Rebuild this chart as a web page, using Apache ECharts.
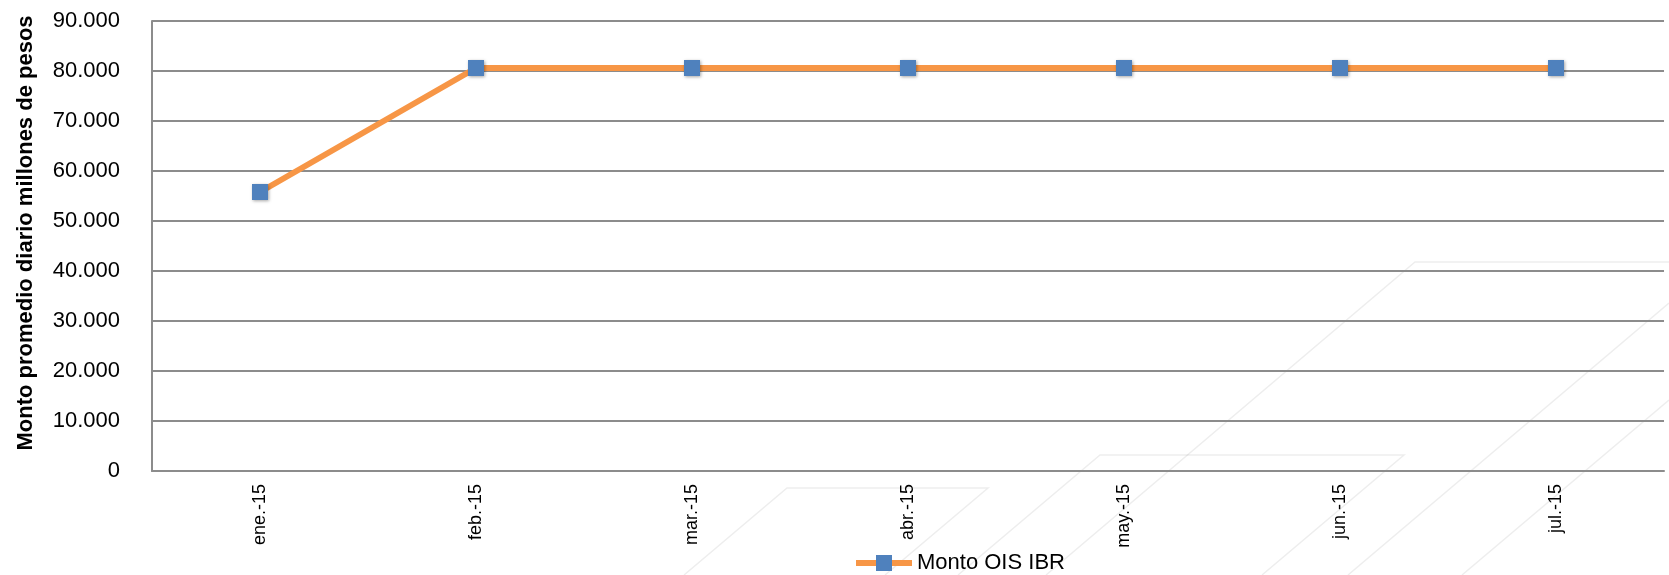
<!DOCTYPE html>
<html><head><meta charset="utf-8">
<script src="https://cdn.jsdelivr.net/npm/echarts@6/dist/echarts.min.js"></script>
<style>html,body{margin:0;padding:0;background:#fff}#c{width:1669px;height:575px}</style>
</head><body><div id="c"></div>
<script>
const categories = ['ene.-15','feb.-15','mar.-15','abr.-15','may.-15','jun.-15','jul.-15'];
const montoOIS = [55800, 80600, 80600, 80600, 80600, 80600, 80600];
const seriesName = 'Monto OIS IBR';
const yTitle = 'Monto promedio diario millones de pesos';

function fmt(v){ return String(v).replace(/\B(?=(\d{3})+(?!\d))/g, '.'); }

const deco = [
  [[684,575],[787,488],[988,488],[885,575]],
  [[958,575],[1100,455],[1404,455],[1262,575]],
  [[1046,575],[1415,262],[1669,262]],
  [[1669,303],[1348,575]],
  [[1669,400],[1462,575]]
];

const chart = echarts.init(document.getElementById('c'));
chart.setOption({
  animation:false,
  textStyle:{fontFamily:'Liberation Sans, Arial, sans-serif'},
  graphic: deco.map(p => ({type:'polyline', z:-10, silent:true, shape:{points:p}, style:{stroke:'rgba(0,0,0,0.07)', lineWidth:1.5, fill:null}})),
  grid:{left:152, right:5, top:21, bottom:104, containLabel:false},
  legend:{
    top:547, left:848,
    itemWidth:56, itemHeight:20, itemGap:6,
    lineStyle:{width:6},
    textStyle:{fontSize:22, color:'#000', fontFamily:'Liberation Sans, Arial, sans-serif'},
    data:[seriesName]
  },
  xAxis:{
    type:'category', data:categories, boundaryGap:true,
    axisLine:{lineStyle:{color:'#8c8c8c', width:2}},
    axisTick:{show:false},
    axisLabel:{rotate:90, fontSize:18, color:'#000', margin:13}
  },
  yAxis:{
    type:'value', min:0, max:90000, interval:10000,
    name:yTitle, nameLocation:'middle', nameGap:115,
    nameTextStyle:{fontSize:22, fontWeight:'bold', color:'#000', padding:[0,0,0,26]},
    axisLine:{show:true, lineStyle:{color:'#8c8c8c', width:2}},
    axisTick:{show:false},
    splitLine:{lineStyle:{color:'#8c8c8c', width:2}},
    axisLabel:{fontSize:22, color:'#000', margin:32, formatter:fmt}
  },
  series:[{
    name:seriesName, type:'line', data:montoOIS,
    symbol:'rect', symbolSize:16,
    lineStyle:{color:'#F79646', width:6},
    itemStyle:{color:'#4F81BD', shadowColor:'rgba(0,0,0,0.35)', shadowBlur:3, shadowOffsetX:1, shadowOffsetY:1},
    color:'#F79646'
  }]
});
</script></body></html>
